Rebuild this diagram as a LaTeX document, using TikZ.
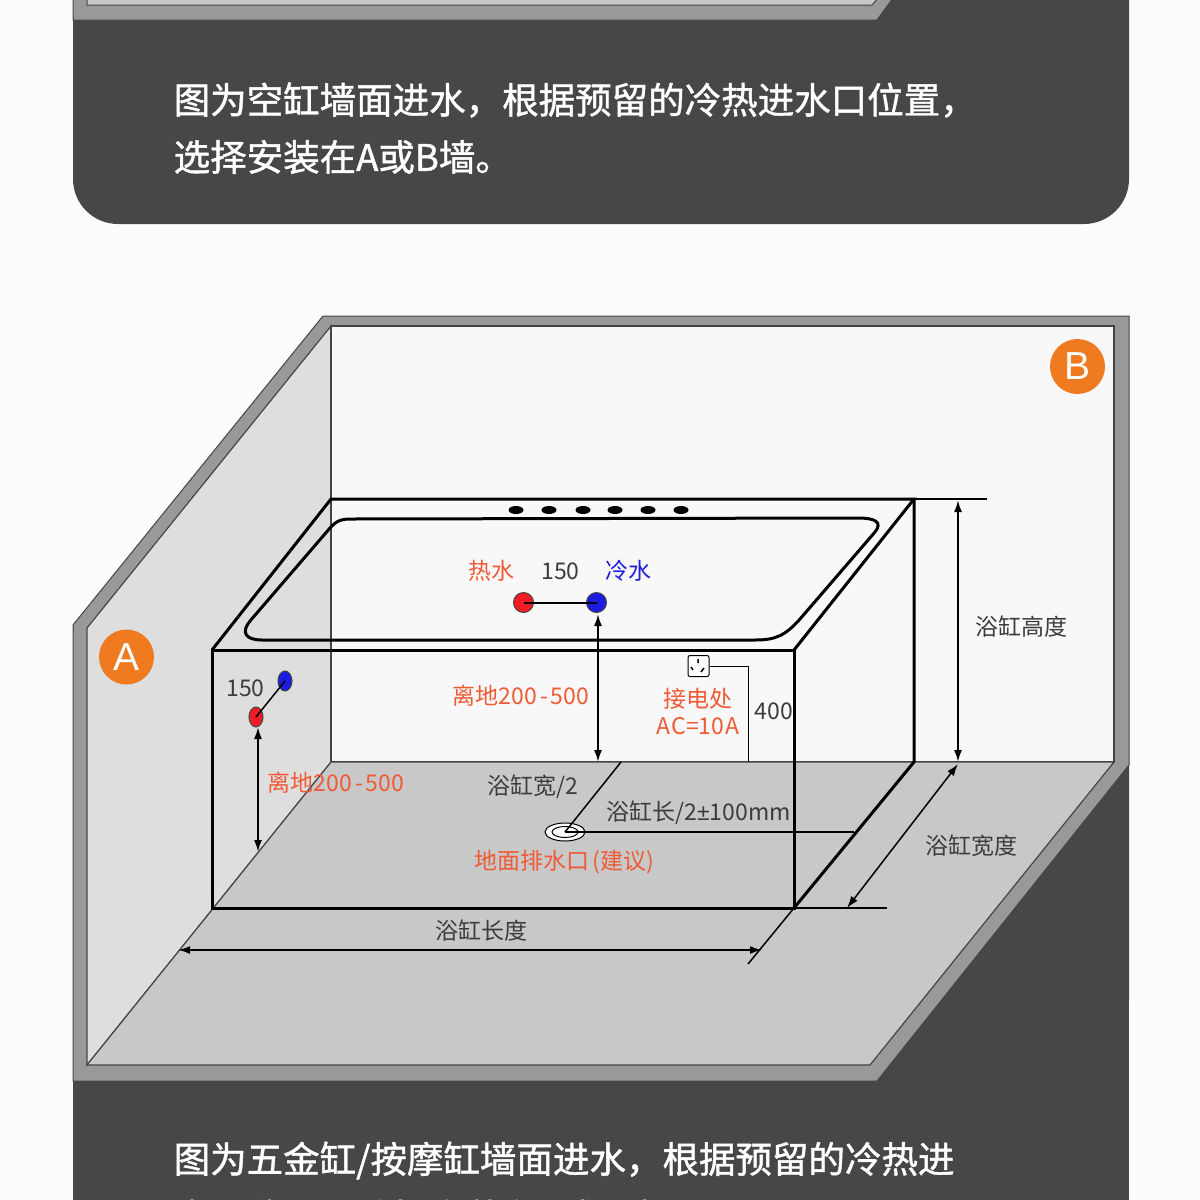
\documentclass[tikz,border=0pt]{standalone}
\usepackage{fontspec}
\setmainfont{Noto Sans CJK SC}
\newfontfamily\capfont[FakeBold=1.2]{Noto Sans CJK SC}
\newfontfamily\latfont{Liberation Sans}
\usetikzlibrary{arrows.meta,positioning,shapes.geometric}
\definecolor{panelgray}{HTML}{474747}
\definecolor{framegray}{HTML}{999999}
\definecolor{edgegray}{HTML}{454545}
\definecolor{wallA}{HTML}{DEDEDE}
\definecolor{wallB}{HTML}{F8F8F8}
\definecolor{floorgray}{HTML}{C8C8C8}
\definecolor{tagorange}{HTML}{F07A20}
\definecolor{noteorange}{HTML}{F05A35}
\definecolor{labelgray}{HTML}{3C3C3C}
\definecolor{coldblue}{HTML}{1C1CE0}
\definecolor{hotred}{HTML}{EE1C24}
\tikzset{
  wallface/.style={draw=edgegray,line width=1.2pt},
  tubline/.style={draw=black,line width=3pt,line join=miter},
  thinline/.style={draw=black,line width=1.5pt},
  dimline/.style={draw=black,line width=2pt,{Latex[length=12pt,width=8pt]}-{Latex[length=12pt,width=8pt]}},
  caption/.style={text=white,font=\capfont\fontsize{36.5}{40}\selectfont,anchor=west,inner sep=0pt},
  note/.style={text=noteorange,font=\fontsize{23}{27}\selectfont,inner sep=0pt},
  dimtext/.style={text=labelgray,font=\fontsize{23}{27}\selectfont,inner sep=0pt},
  tagdot/.style={circle,fill=tagorange,minimum size=55pt,inner sep=0pt,text=white,font=\latfont\fontsize{39}{39}\selectfont},
  pipedot/.style={circle,draw=edgegray,line width=1pt,minimum size=20pt,inner sep=0pt},
  hole/.style={ellipse,fill=black,minimum width=15pt,minimum height=8pt,inner sep=0pt}
}
\begin{document}
\begin{tikzpicture}[x=1pt,y=-1pt]
\useasboundingbox (0,0) rectangle (1200,1200);
\clip (0,0) rectangle (1200,1200);
\fill[white!99!black] (0,0) rectangle (1200,1200);
% upper panel
\fill[panelgray] (73,0) -- (1129,0) -- (1129,179) arc[start angle=0,end angle=90,radius=45] -- (118,224) arc[start angle=90,end angle=180,radius=45] -- cycle;
\fill[framegray,draw=edgegray,line width=1pt] (73,-2) -- (73,20) -- (877,20) -- (893,-2) -- cycle;
\fill[floorgray,draw=edgegray,line width=1pt] (87,-2) -- (87,5) -- (872,5) -- (878,-2) -- cycle;
\node[caption] (top1) at (173.5,100) {图为空缸墙面进水，根据预留的冷热进水口位置，};
\node[caption] (top2) at (173.5,157) {选择安装在A或B墙。};
% lower panel
\fill[panelgray] (73,1000) rectangle (1129,1200);
\fill[panelgray] (1129,762) -- (1129,1001) -- (800,1100) -- cycle;
\node[caption] (low1) at (173.5,1160.5) {图为五金缸/按摩缸墙面进水，根据预留的冷热进};
\node[caption] (low2) at (173.5,1217) {水口位置，选择安装在A或B墙。};
% room
\fill[framegray,draw=edgegray,line width=1pt] (73,625) -- (323,316) -- (1129,316) -- (1129,765) -- (877,1081) -- (73,1081) -- cycle;
\filldraw[wallA,wallface] (87,1065) -- (87,628) -- (331,326) -- (331,762) -- cycle;
\filldraw[wallB,wallface] (331,326) rectangle (1114,762);
\filldraw[floorgray,wallface] (331,762) -- (1114,762) -- (870,1065) -- (87,1065) -- cycle;
\node[tagdot] (tagA) at (126.5,657) {A};
\node[tagdot] (tagB) at (1077.5,366.5) {B};
% tub
\draw[tubline] (212,650) rectangle (794,908);
\draw[tubline] (212,650) -- (331,499) -- (914,499) -- (794,650);
\draw[tubline] (914,499) -- (914,762) -- (794,908);
\draw[tubline] (330,528) .. controls (337,520) and (342,519) .. (352,519) -- (858,518)
  .. controls (875,518) and (883,522) .. (875,532) -- (800,619)
  .. controls (785,636) and (775,640) .. (755,640) -- (262,640)
  .. controls (245,640) and (241,632) .. (250,621) -- cycle;
\foreach \hx [count=\hi] in {516,549,583,615,648,681}
  \node[hole] (hole\hi) at (\hx,510) {};
% back wall pipes
\node[pipedot,fill=hotred] (hotB) at (523.5,602.5) {};
\node[pipedot,fill=coldblue] (coldB) at (596.5,602.5) {};
\draw[black,line width=2pt] (hotB.center) -- (coldB.center);
\coordinate (floorB) at (598,762);
\draw[dimline] (598,614) -- (floorB);
\node[note] (hotT) at (491,571) {热水};
\node[dimtext] (pitchB) at (560.5,571.5) {150};
\node[text=coldblue,font=\fontsize{23}{27}\selectfont,inner sep=0pt] (coldT) at (628,571) {冷水};
\node[note] (heightB) at (521,696) {离地200\kern3pt-\kern3pt500};
% socket
\node[draw=black,line width=1pt,fill=white,rounded corners=2pt,minimum size=21pt,inner sep=0pt] (socket) at (698.5,666) {};
\draw[black,line width=1.5pt] (698,659) -- (698,663) (691,667) -- (693,670) (704,668) -- (701,672);
\coordinate (socketFoot) at (748,762);
\draw[black,line width=1pt] (socket.east) -| (socketFoot);
\node[note] (powerT) at (698,699) {接电处};
\node[note] (powerA) at (698,726.5) {A\kern1pt C=10\kern1pt A};
\node[dimtext] (h400) at (774,711.5) {400};
% side wall pipes
\node[pipedot,fill=coldblue,ellipse,minimum width=14pt,minimum height=20pt] (coldA) at (285,681) {};
\node[pipedot,fill=hotred,ellipse,minimum width=14pt,minimum height=20pt] (hotA) at (256,717) {};
\draw[black,line width=1.5pt] (hotA.center) -- (coldA.center);
\coordinate (floorA) at (258,852);
\draw[dimline] (258,727) -- (floorA);
\node[dimtext] (pitchA) at (245.5,688) {150};
\node[note] (heightA) at (336,783) {离地200\kern3pt-\kern3pt500};
% drain
\node[ellipse,draw=black,line width=1pt,fill=white,minimum width=40pt,minimum height=18pt,inner sep=0pt] (drain) at (565,832) {};
\node[ellipse,draw=black,line width=1pt,fill=white,minimum width=26pt,minimum height=11pt,inner sep=0pt] (drainIn) at (565,832) {};
\coordinate (backMid) at (621,762);
\coordinate (sideMid) at (854,832);
\draw[thinline] (drain.center) -- (backMid);
\draw[black,line width=2pt] (drain.center) -- (sideMid);
\node[dimtext] (halfW) at (533,787) {浴缸宽/2};
\node[dimtext] (halfL) at (698.5,813) {浴缸长/2{\latfont ±}100mm};
\node[note] (drainT) at (564,862) {地面排水口\kern-2pt{} (建议)};
% outer dimensions
\coordinate (topR) at (914,499);
\coordinate (topE) at (987,499);
\coordinate (footR) at (794,908);
\coordinate (footE) at (887,908);
\coordinate (footD) at (748,964);
\draw[black,line width=2pt] (topR) -- (topE);
\draw[black,line width=2pt] (footR) -- (footE);
\draw[thinline] (footR) -- (footD);
\draw[dimline] (958,500) -- (958,762);
\draw[dimline,line width=1.5pt] (958,764) -- (847,908);
\draw[dimline] (178,950) -- (762,950);
\node[dimtext] (tubH) at (1021,627) {浴缸高度};
\node[dimtext] (tubW) at (971,846) {浴缸宽度};
\node[dimtext] (tubL) at (481,931) {浴缸长度};
\end{tikzpicture}
\end{document}
